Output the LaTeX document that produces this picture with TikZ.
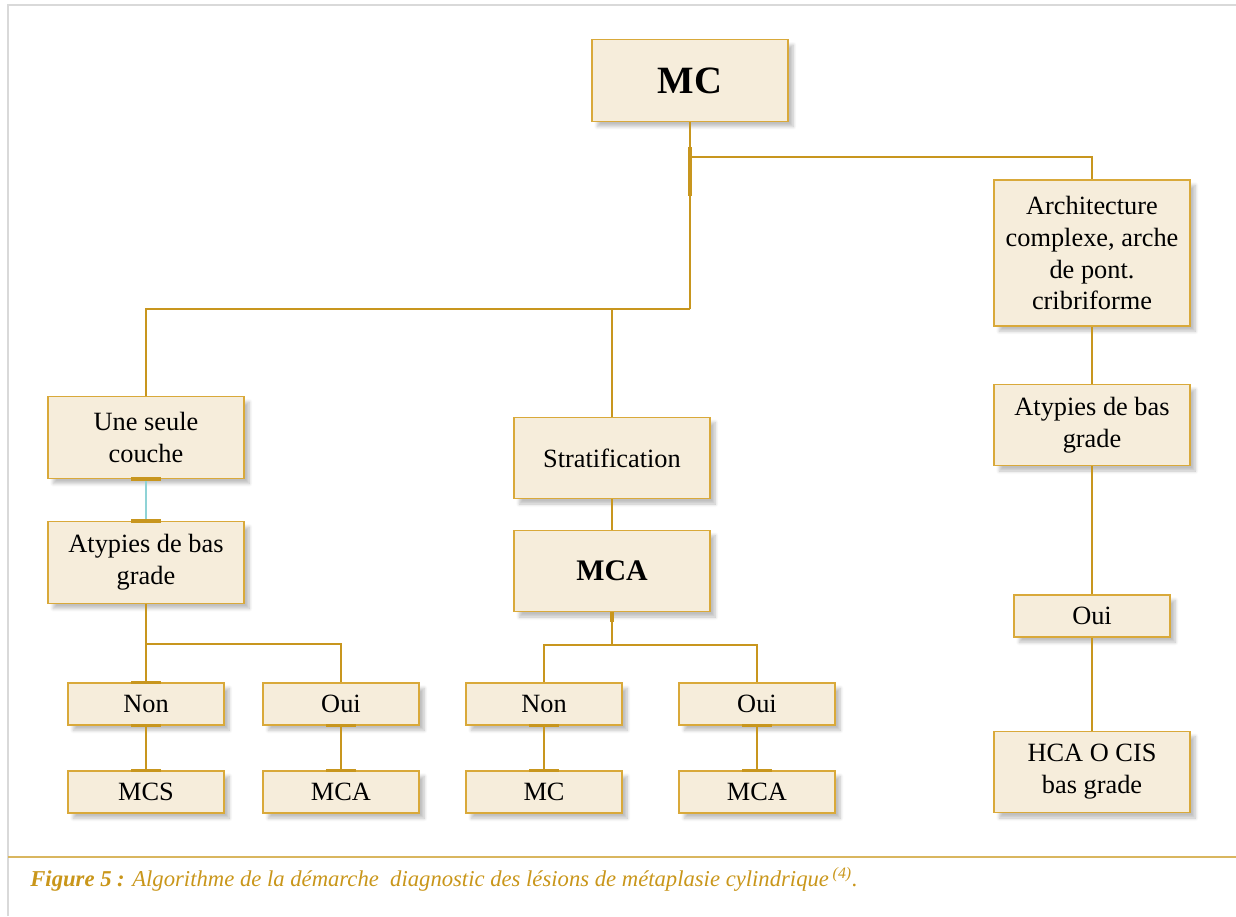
\documentclass[tikz,border=0pt]{standalone}
\usepackage{fontspec}
\setmainfont{Liberation Serif}
\usetikzlibrary{shadows.blur}
\definecolor{boxfill}{HTML}{F6EDDB}
\definecolor{boxline}{HTML}{D9A93A}
\definecolor{linkcol}{HTML}{C8961E}
\definecolor{capcol}{HTML}{C9961A}
\definecolor{cyanlink}{HTML}{8FD3D6}

\begin{document}
\begin{tikzpicture}[x=0.02cm,y=-0.02cm,
  bbox/.style={draw=boxline,fill=boxfill,line width=0.8pt,align=center,
    minimum width=3.92cm,minimum height=1.63cm,inner sep=2pt,
    font=\fontsize{15}{18.2}\selectfont,
    blur shadow={shadow xshift=3pt,shadow yshift=-3pt,shadow blur steps=6,shadow opacity=25}},
  sbox/.style={bbox,minimum width=3.12cm,minimum height=0.84cm},
  link/.style={draw=linkcol,line width=0.8pt},
  tick/.style={draw=linkcol,line width=2pt}]
  \useasboundingbox (0,0) rectangle (1236,916);
  \draw[black!15,line width=0.6pt] (8,916) -- (8,5) -- (1236,5);
  % top level
  \node[bbox,font=\fontsize{22}{26}\selectfont\bfseries] (MC) at (690,80.5) {MC};
  \node[bbox,minimum height=2.92cm] (Arch) at (1092,253) {Architecture\\complexe, arche\\de pont.\\cribriforme};
  \node[bbox] (Une) at (146,437.5) {Une seule\\couche};
  \node[bbox] (Strat) at (612,458) {Stratification};
  % left branch
  \node[bbox] (AtL) at (146,562.5) {Atypies de bas\\grade};
  \node[sbox] (NonL) at (146,704) {Non};
  \node[sbox] (OuiL) at (341,704) {Oui};
  \node[sbox] (MCS) at (146,792) {MCS};
  \node[sbox] (MCAL) at (341,792) {MCA};
  % middle branch
  \node[bbox,font=\fontsize{17}{20}\selectfont\bfseries] (MCA) at (612,571) {MCA};
  \node[sbox] (NonM) at (544,704) {Non};
  \node[sbox] (OuiM) at (757,704) {Oui};
  \node[sbox] (MCM) at (544,792) {MC};
  \node[sbox] (MCAM) at (757,792) {MCA};
  % right branch
  \node[bbox] (AtR) at (1092,425) {Atypies de bas\\grade};
  \node[sbox] (OuiR) at (1092,616) {Oui};
  \node[bbox] (HCA) at (1092,772) {HCA O CIS\\bas grade};
  \coordinate (jTop) at (690,157);
  \coordinate (jMid) at (690,309);
  \coordinate (jL) at (146,644);
  \coordinate (jM) at (612,645);
  \begin{scope}[link]
    \draw (MC) -- (jMid);
    \draw (jTop) -| (Arch);
    \draw (jMid) -| (Une);
    \draw (jMid) -| (Strat);
    \draw[cyanlink] (Une) -- (AtL);
    \draw (AtL) -- (NonL);
    \draw (jL) -| (OuiL);
    \draw (NonL) -- (MCS);
    \draw (OuiL) -- (MCAL);
    \draw (Strat) -- (MCA);
    \draw (MCA) -- (jM);
    \draw (jM) -| (NonM);
    \draw (jM) -| (OuiM);
    \draw (NonM) -- (MCM);
    \draw (OuiM) -- (MCAM);
    \draw (Arch) -- (AtR);
    \draw (AtR) -- (OuiR);
    \draw (OuiR) -- (HCA);
  \end{scope}
  \begin{scope}[tick]
    \draw (jTop) ++(0,-10) -- ++(0,49);
    \draw (MCA.south) -- ++(0,10);
    \draw (Une.south) ++(-15,0) -- ++(30,0);
    \draw (AtL.north) ++(-15,0) -- ++(30,0);
    \draw (NonL.north) ++(-15,0) -- ++(30,0);
    \draw (NonL.south) ++(-15,0) -- ++(30,0);
    \draw (MCS.north) ++(-15,0) -- ++(30,0);
    \draw (OuiL.south) ++(-15,0) -- ++(30,0);
    \draw (MCAL.north) ++(-15,0) -- ++(30,0);
    \draw (NonM.south) ++(-15,0) -- ++(30,0);
    \draw (MCM.north) ++(-15,0) -- ++(30,0);
    \draw (OuiM.south) ++(-15,0) -- ++(30,0);
    \draw (MCAM.north) ++(-15,0) -- ++(30,0);
  \end{scope}
  % caption
  \draw[capcol!70,line width=1.2pt] (8,857) -- (1236,857);
  \node[anchor=base west,inner sep=0pt,text=capcol,font=\fontsize{12.9}{15}\selectfont\itshape] (cap) at (30,886)
    {\textbf{Figure 5 :} Algorithme de la démarche\ \ diagnostic des lésions de métaplasie cylindrique\,\textsuperscript{(4)}.};
\end{tikzpicture}
\end{document}
